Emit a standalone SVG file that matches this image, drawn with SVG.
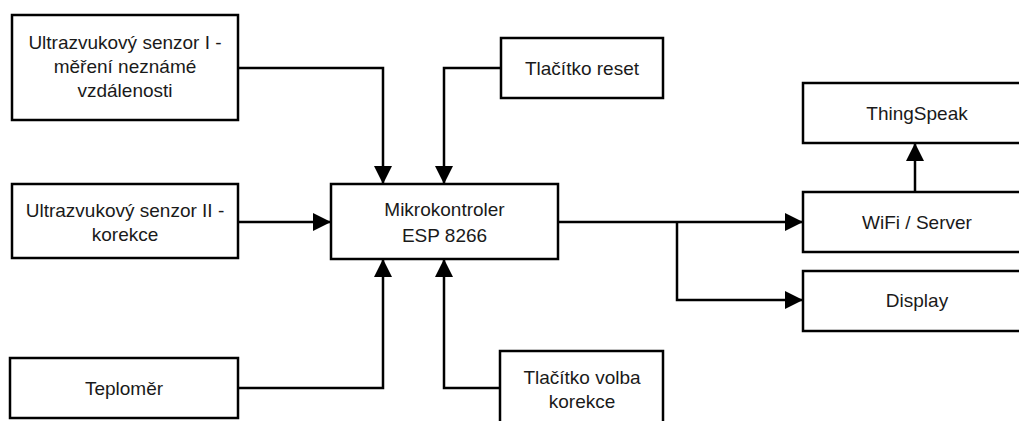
<svg xmlns="http://www.w3.org/2000/svg" width="1019" height="421" viewBox="0 0 1019 421">
  <style>
    .box { fill: #ffffff; stroke: #000000; stroke-width: 2.5; }
    .lbl { font-family: "Liberation Sans", Arial, sans-serif; font-size: 19px; fill: #1a1a1a; text-anchor: middle; }
    .wire { fill: none; stroke: #000000; stroke-width: 2.5; }
  </style>
  <defs>
    <marker id="arrow" markerUnits="userSpaceOnUse" markerWidth="18" markerHeight="18" refX="18" refY="9" orient="auto">
      <path d="M0,0 L18,9 L0,18 Z" fill="#000000"/>
    </marker>
  </defs>
  <rect width="1019" height="421" fill="#ffffff"/>

  <!-- connectors -->
  <g id="connectors">
    <path class="wire" d="M238,68 H383 V184" marker-end="url(#arrow)"/>
    <path class="wire" d="M501,68 H444 V184" marker-end="url(#arrow)"/>
    <path class="wire" d="M238,222 H331" marker-end="url(#arrow)"/>
    <path class="wire" d="M238,388 H383 V259" marker-end="url(#arrow)"/>
    <path class="wire" d="M500,388 H444 V259" marker-end="url(#arrow)"/>
    <path class="wire" d="M558,222 H803" marker-end="url(#arrow)"/>
    <path class="wire" d="M677,222 V300 H803" marker-end="url(#arrow)"/>
    <path class="wire" d="M915,192 V143" marker-end="url(#arrow)"/>
  </g>

  <g id="sensor1">
    <rect class="box" x="12" y="15" width="226" height="105"/>
    <text class="lbl" x="125" y="49">Ultrazvukový senzor I -</text>
    <text class="lbl" x="125" y="73">měření neznámé</text>
    <text class="lbl" x="125" y="97">vzdálenosti</text>
  </g>

  <g id="sensor2">
    <rect class="box" x="12" y="184" width="226" height="74"/>
    <text class="lbl" x="125" y="217">Ultrazvukový senzor II -</text>
    <text class="lbl" x="125" y="241">korekce</text>
  </g>

  <g id="thermometer">
    <rect class="box" x="10" y="358" width="228" height="60"/>
    <text class="lbl" x="124" y="395">Teploměr</text>
  </g>

  <g id="mcu">
    <rect class="box" x="331" y="184" width="227" height="75"/>
    <text class="lbl" x="444.5" y="216">Mikrokontroler</text>
    <text class="lbl" x="444.5" y="242">ESP 8266</text>
  </g>

  <g id="reset-button">
    <rect class="box" x="501" y="38" width="162" height="60"/>
    <text class="lbl" x="582" y="75">Tlačítko reset</text>
  </g>

  <g id="mode-button">
    <rect class="box" x="500" y="351" width="163" height="90"/>
    <text class="lbl" x="582" y="384">Tlačítko volba</text>
    <text class="lbl" x="582" y="408">korekce</text>
  </g>

  <g id="thingspeak">
    <rect class="box" x="803" y="83" width="228" height="60"/>
    <text class="lbl" x="917" y="120">ThingSpeak</text>
  </g>

  <g id="wifi">
    <rect class="box" x="803" y="192" width="228" height="60"/>
    <text class="lbl" x="917" y="229">WiFi / Server</text>
  </g>

  <g id="display">
    <rect class="box" x="803" y="271" width="228" height="60"/>
    <text class="lbl" x="917" y="307">Display</text>
  </g>
</svg>
